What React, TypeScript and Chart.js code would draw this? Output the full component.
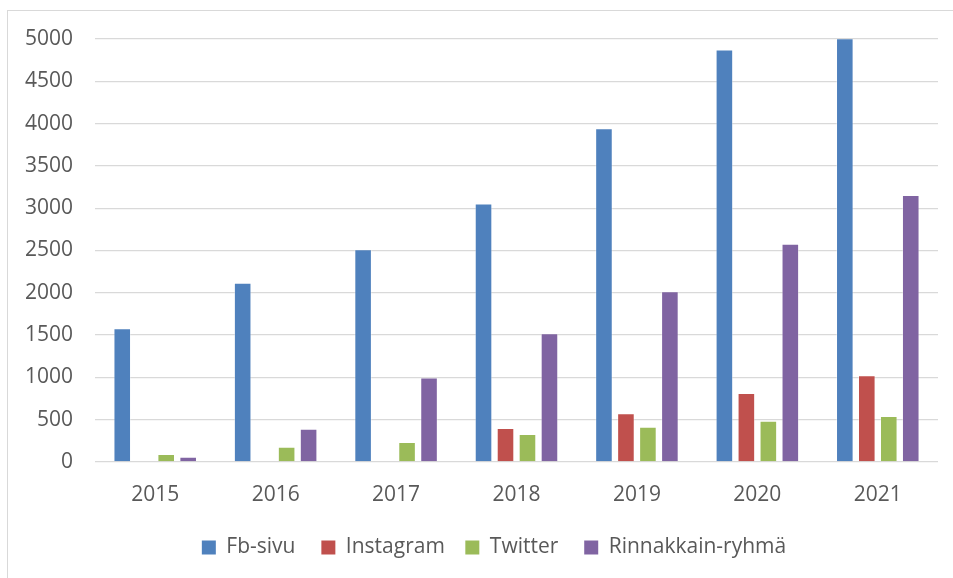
import React, { useEffect, useRef } from "react";
import { Chart, registerables } from "chart.js";

Chart.register(...registerables);

const years = ["2015", "2016", "2017", "2018", "2019", "2020", "2021"];
const seriesNames = ["Fb-sivu", "Instagram", "Twitter", "Rinnakkain-ryhmä"];
const fbSivu = [1580, 2118, 2515, 3055, 3945, 4875, 5010];
const instagram = [0, 0, 0, 402, 575, 815, 1025];
const twitter = [95, 181, 236, 331, 418, 488, 544];
const rinnakkain = [63, 394, 1000, 1521, 2018, 2580, 3156];
const yTicks = [0, 500, 1000, 1500, 2000, 2500, 3000, 3500, 4000, 4500, 5000];
const colors = ["#4f81bd", "#c0504d", "#9bbb59", "#8064a2"];
const legendGaps = ["  ", " ", "  ", ""];

const FONT = "'Open Sans', sans-serif";
const TEXT = "#595959";

const legendShift = {
  id: "legendShift",
  afterLayout(chart: any) {
    if (chart.legend) {
      chart.legend.left += 25;
      chart.legend.right += 25;
    }
  },
};

export default function App() {
  const ref = useRef<HTMLCanvasElement | null>(null);
  useEffect(() => {
    if (!ref.current) return;
    const mk = (i: number, data: number[]) => ({
      label: seriesNames[i],
      data,
      backgroundColor: colors[i],
      borderColor: "rgba(255,255,255,0.35)",
      borderWidth: 1,
      barPercentage: 0.8,
      categoryPercentage: 0.73,
    });
    const chart = new Chart(ref.current, {
      type: "bar",
      data: {
        labels: years,
        datasets: [mk(0, fbSivu), mk(1, instagram), mk(2, twitter), mk(3, rinnakkain)],
      },
      plugins: [legendShift],
      options: {
        animation: false,
        responsive: false,
        maintainAspectRatio: false,
        layout: { padding: { top: 39, right: 15, bottom: 10, left: 0 } },
        plugins: {
          tooltip: { enabled: false },
          legend: {
            position: "bottom",
            labels: {
              font: { family: FONT, size: 21 },
              color: TEXT,
              boxWidth: 14,
              boxHeight: 14,
              padding: 15,
              generateLabels: (c: any) =>
                c.data.datasets.map((d: any, i: number) => ({
                  text: d.label + legendGaps[i],
                  fillStyle: colors[i],
                  strokeStyle: colors[i],
                  lineWidth: 0,
                  fontColor: TEXT,
                  hidden: false,
                  datasetIndex: i,
                })),
            },
          },
        },
        scales: {
          x: {
            grid: { display: false, drawTicks: false },
            border: { display: false },
            ticks: { font: { family: FONT, size: 21 }, color: TEXT, padding: 20 },
            afterFit: (s: any) => {
              s.height = 60;
            },
          },
          y: {
            min: 0,
            max: 5000,
            afterBuildTicks: (s: any) => {
              s.ticks = yTicks.map((v) => ({ value: v }));
            },
            grid: { color: "#d9d9d9", lineWidth: 1.3, drawTicks: false },
            border: { display: false },
            ticks: {
              font: { family: FONT, size: 21 },
              color: TEXT,
              padding: 22,
              callback: (v: any) => String(v),
            },
            afterFit: (s: any) => {
              s.width = 95;
            },
          },
        },
      },
    });
    return () => chart.destroy();
  }, []);
  return (
    <div style={{ position: "absolute", left: 0, top: 0, width: 953, height: 578, overflow: "hidden", background: "#fff" }}>
      <div style={{ position: "absolute", left: 7, top: 10, width: 980, height: 600, border: "1px solid #d9d9d9" }} />
      <canvas ref={ref} width={953} height={578} style={{ position: "absolute", left: 0, top: 0 }} />
    </div>
  );
}
